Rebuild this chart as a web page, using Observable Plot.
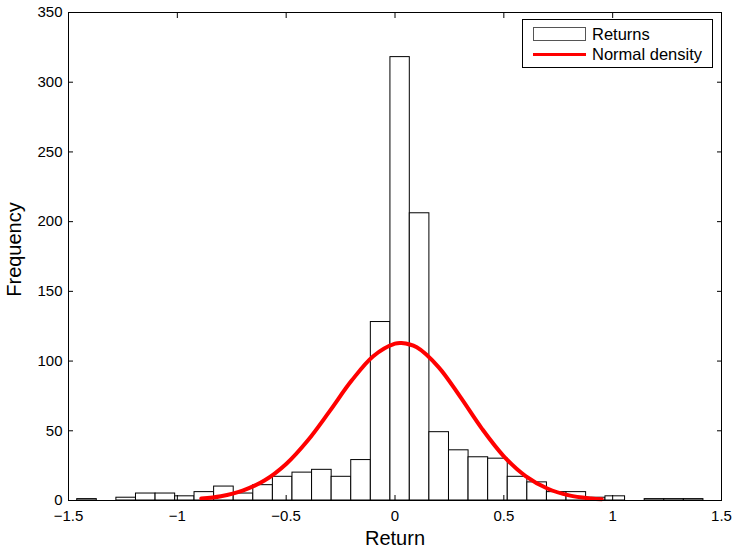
<!DOCTYPE html>
<html>
<head>
<meta charset="utf-8">
<script src="https://cdn.jsdelivr.net/npm/d3@7"></script>
<script src="https://cdn.jsdelivr.net/npm/@observablehq/plot@0.6"></script>
<style>
  body { margin: 0; background: #fff; }
  #wrap { position: relative; width: 737px; height: 550px; font-family: "Liberation Sans", Arial, sans-serif; color: #000; }
  #legend { position: absolute; left: 522px; top: 19px; width: 191px; height: 49px; border: 1px solid #000; background: #fff; box-sizing: border-box; font-size: 16.5px; }
  #legend .patch { position: absolute; left: 10px; width: 53px; height: 14px; border: 1px solid #555; box-sizing: border-box; background: #fff; }
  #legend .redline { position: absolute; left: 10px; width: 53px; height: 3px; background: #f00; }
  #legend .lbl { position: absolute; left: 69px; white-space: nowrap; line-height: 18px; }
</style>
</head>
<body>
<div id="wrap">
  <div id="chart"></div>
  <div id="legend"></div>
</div>
<script>
// Histogram bin edges (33 edges -> 32 bins)
const binEdges = [-1.460, -1.370, -1.280, -1.190, -1.100, -1.010, -0.921, -0.831, -0.741, -0.651,
  -0.561, -0.471, -0.381, -0.291, -0.201, -0.111, -0.021, 0.068, 0.158, 0.248,
  0.338, 0.428, 0.518, 0.608, 0.698, 0.788, 0.878, 0.967, 1.057, 1.147,
  1.237, 1.327, 1.417];
// Frequencies per bin
const counts = [1, 0, 2, 5, 5, 3, 6, 10, 5, 11,
  17, 20, 22, 17, 29, 128, 318, 206, 49, 36,
  31, 30, 17, 13, 6, 6, 2, 3, 0, 1,
  1, 1];
// Normal density curve
const curveX = [-0.89, -0.8, -0.7, -0.6, -0.5, -0.4, -0.3, -0.2, -0.1, 0, 0.03, 0.1, 0.2, 0.3, 0.4, 0.5, 0.6, 0.7, 0.8, 0.9, 0.95];
const curveY = [1.4, 3.1, 7.1, 14.3, 26.2, 43.2, 64.1, 85.8, 103.5, 112.5, 113, 109.9, 95.7, 74.3, 51.4, 31.7, 17.5, 8.6, 3.7, 1.5, 0.9];
const xTicks = [-1.5, -1, -0.5, 0, 0.5, 1, 1.5];
const yTicks = [0, 50, 100, 150, 200, 250, 300, 350];
const legendLabels = ["Returns", "Normal density"];
const xLabel = "Return";
const yLabel = "Frequency";

const bins = counts.map((c, i) => ({x1: binEdges[i], x2: binEdges[i + 1], count: c}));
const curve = curveX.map((x, i) => ({x, y: curveY[i]}));
const blank = () => "";
const fmt = d3.format("");

const chart = Plot.plot({
  width: 737,
  height: 550,
  marginLeft: 68,
  marginRight: 16,
  marginTop: 12,
  marginBottom: 50,
  style: {fontFamily: "'Liberation Sans', Arial, sans-serif", fontSize: "15px", color: "#000", background: "#fff"},
  x: {domain: [-1.5, 1.5], label: null},
  y: {domain: [0, 350], label: null},
  marks: [
    Plot.rectY(bins, {x1: "x1", x2: "x2", y: "count", fill: "white", stroke: "black", strokeWidth: 1}),
    Plot.line(curve, {x: "x", y: "y", stroke: "#ff0000", strokeWidth: 4, curve: "catmull-rom"}),
    Plot.frame({stroke: "black", strokeWidth: 1}),
    Plot.axisX({anchor: "bottom", ticks: xTicks, tickSize: -5, tickPadding: 15, tickFormat: fmt, fontSize: 15, label: null}),
    Plot.axisX({anchor: "top", ticks: xTicks, tickSize: -5, tickFormat: blank, label: null}),
    Plot.axisY({anchor: "left", ticks: yTicks, tickSize: -5, tickPadding: 11, tickFormat: fmt, fontSize: 15, label: null}),
    Plot.axisY({anchor: "right", ticks: yTicks, tickSize: -5, tickFormat: blank, label: null}),
    Plot.text([xLabel], {frameAnchor: "bottom", dy: 38, fontSize: 20, text: d => d, lineAnchor: "middle", textAnchor: "middle"}),
    Plot.text([yLabel], {frameAnchor: "left", dx: -54, dy: -7, rotate: -90, fontSize: 20, text: d => d, lineAnchor: "middle", textAnchor: "middle"})
  ]
});
document.getElementById("chart").appendChild(chart);

const legend = document.getElementById("legend");
legend.innerHTML = `
  <div class="patch" style="top:7px"></div>
  <div class="lbl" style="top:5px">${legendLabels[0]}</div>
  <div class="redline" style="top:32.5px"></div>
  <div class="lbl" style="top:25px">${legendLabels[1]}</div>
`;
</script>
</body>
</html>
